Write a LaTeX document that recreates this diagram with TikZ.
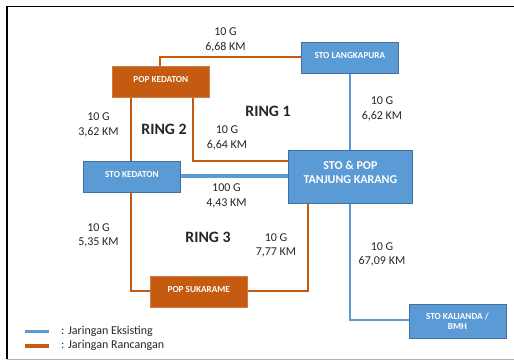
\documentclass[tikz,border=0pt]{standalone}
\usepackage{fontspec}
\setmainfont{Carlito}
\definecolor{netblue}{HTML}{5B9BD5}
\definecolor{blueedge}{HTML}{41719C}
\definecolor{netorange}{HTML}{C55A11}
\definecolor{ink}{HTML}{262626}
\tikzset{
  x=1pt,y=-1pt,
  bluebox/.style={draw=blueedge,line width=0.8pt,fill=netblue,text=white,font=\bfseries\fontsize{9.2}{10.6}\selectfont,align=center,inner sep=0pt,anchor=north west},
  orangebox/.style={draw=netorange!80!white,line width=0.6pt,fill=netorange,text=white,font=\bfseries\fontsize{9.2}{10.6}\selectfont,align=center,inner sep=0pt,anchor=north west},
  bluelink/.style={draw=netblue,line width=2pt},
  orangelink/.style={draw=netorange,line width=2pt},
  note/.style={text=ink,font=\fontsize{12}{14.7}\selectfont,align=center,inner sep=0pt},
  ringlabel/.style={text=ink,font=\bfseries\fontsize{15.8}{17}\selectfont,inner sep=0pt},
  legendtext/.style={text=ink,font=\fontsize{12}{14}\selectfont,inner sep=0pt,anchor=west},
  frameline/.style={line width=1.6pt,black},
}
\newcommand{\uptext}[1]{\raisebox{4pt}{#1}}
\begin{document}
\begin{tikzpicture}
\useasboundingbox (0,0) rectangle (514,360);
\fill[white] (0,0) rectangle (514,360);
\draw[frameline] (514,6.5) -- (7,6.5) -- (7,359);
\draw[gray!60,line width=1pt] (7,359) -- (514,359);
% boxes
\node[orangebox,minimum width=97pt,minimum height=31pt] (kedpop) at (112,66) {\uptext{POP KEDATON}};
\node[bluebox,minimum width=97pt,minimum height=31pt] (langka) at (301,42) {\uptext{STO LANGKAPURA}};
\node[bluebox,minimum width=97pt,minimum height=31pt] (kedsto) at (83,161) {\uptext{STO KEDATON}};
\node[bluebox,minimum width=124pt,minimum height=53pt,font=\bfseries\fontsize{12}{14.5}\selectfont] (tanjung) at (288,150) {\raisebox{17pt}{\renewcommand{\arraystretch}{0.97}\begin{tabular}{@{}c@{}}STO \& POP\\TANJUNG KARANG\end{tabular}}};
\node[orangebox,minimum width=97pt,minimum height=31pt] (suka) at (150,276) {\uptext{POP SUKARAME}};
\node[bluebox,minimum width=97pt,minimum height=34pt] (kal) at (408.5,304) {STO KALIANDA /\\BMH};
% connectors
\draw[orangelink] (kedpop.north west -| 160,0) -- (160,57) -- (langka.west |- 0,57);
\draw[orangelink] (131,0 |- kedpop.south) -- (131,0 |- kedsto.north);
\draw[orangelink] (192.5,0 |- kedpop.south) -- (192.5,161) -- (tanjung.west |- 0,161);
\draw[orangelink] (131,0 |- kedsto.south) -- (131,291) -- (suka.west |- 0,291);
\draw[orangelink] (suka.east |- 0,291) -- (307.5,291) -- (307.5,0 |- tanjung.south);
\draw[bluelink] (349.5,0 |- langka.south) -- (349.5,0 |- tanjung.north);
\draw[bluelink,line width=3.4pt] (kedsto.east |- 0,176) -- (tanjung.west |- 0,176);
\draw[bluelink] (350,0 |- tanjung.south) -- (350,320) -- (kal.west |- 0,320);
% labels
\node[note] (n1) at (225.5,40) {10 G\\6,68 KM};
\node[note] (n2) at (98.5,125) {10 G\\3,62 KM};
\node[note] (n3) at (227,138) {10 G\\6,64 KM};
\node[note] (n4) at (382,109) {10 G\\6,62 KM};
\node[note] (n5) at (226.5,196) {100 G\\4,43 KM};
\node[note] (n6) at (98.5,235.5) {10 G\\5,35 KM};
\node[note] (n7) at (276,245.5) {10 G\\7,77 KM};
\node[note] (n8) at (382,254.5) {10 G\\67,09 KM};
\node[ringlabel] (r1) at (268,111) {RING 1};
\node[ringlabel] (r2) at (164,129.5) {RING 2};
\node[ringlabel] (r3) at (208,237.5) {RING 3};
% legend
\coordinate (la) at (25,331.5);
\coordinate (lb) at (49,331.5);
\coordinate (lc) at (25,346);
\coordinate (ld) at (49,346);
\draw[netblue,line width=3.4pt] (la) -- (lb);
\draw[netorange,line width=3.4pt] (lc) -- (ld);
\node[legendtext] (t1) at (61,331) {: Jaringan Eksisting};
\node[legendtext] (t2) at (61,345.5) {: Jaringan Rancangan};
\end{tikzpicture}
\end{document}
